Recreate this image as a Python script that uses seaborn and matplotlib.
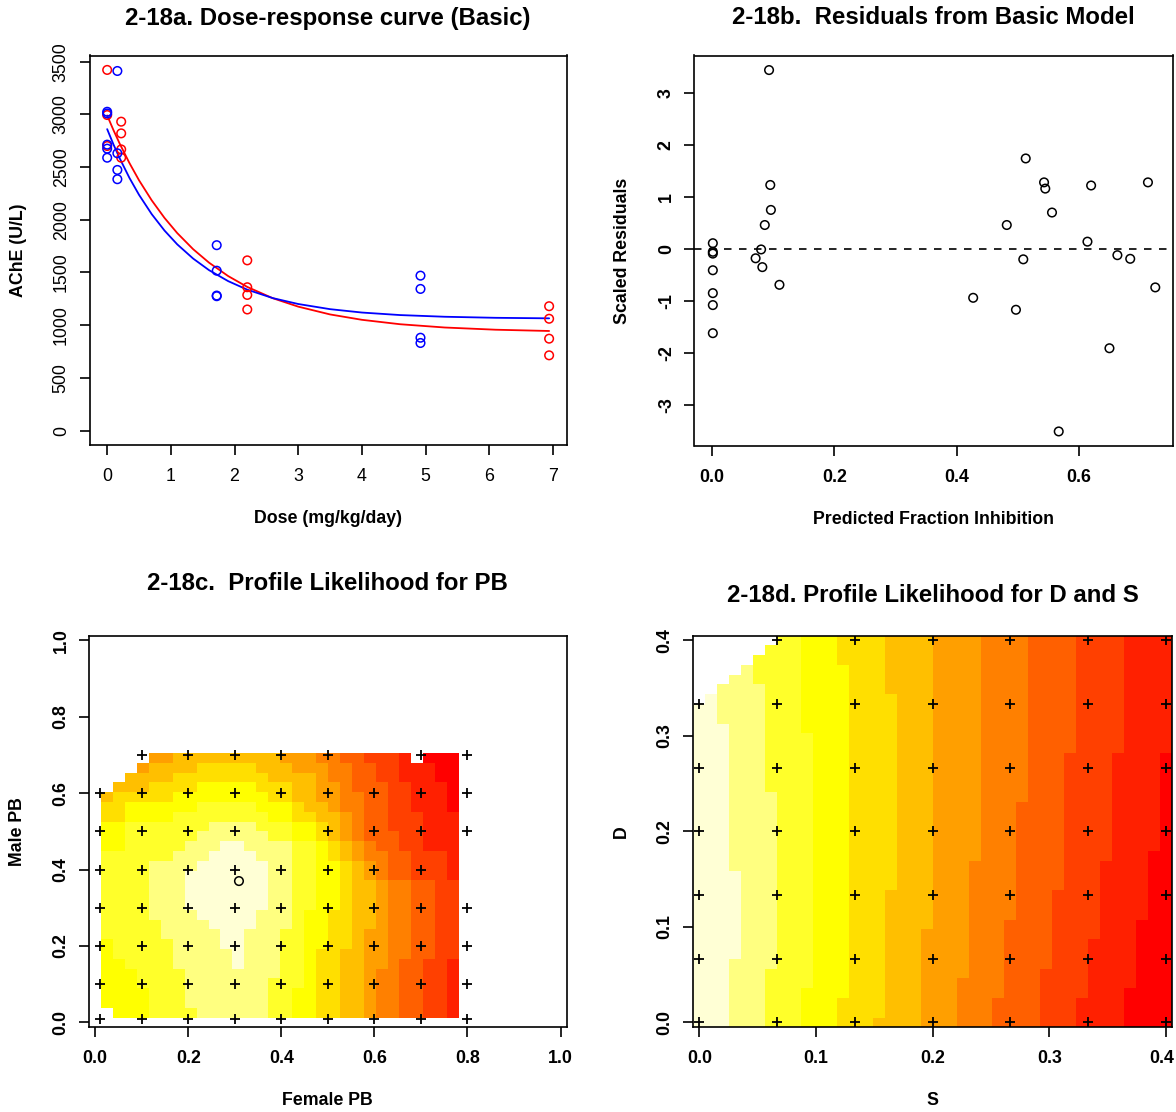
import numpy as np
import pandas as pd
import matplotlib
matplotlib.use("Agg")
import matplotlib.pyplot as plt
import matplotlib.transforms as mtransforms
from matplotlib.colors import ListedColormap, BoundaryNorm
import seaborn as sns

# ── 2-18a: AChE by dose, two groups, with fitted curves ─────────────
RED_DOSE = [0, 0, 0, 0.22, 0.22, 0.22, 0.22, 2.2, 2.2, 2.2, 2.2, 6.94, 6.94, 6.94, 6.94]
RED_ACHE = [3422, 2994, 2700, 2931, 2820, 2668, 2589, 1615, 1360, 1287, 1149, 1180, 1061, 872, 714]
BLUE_DOSE = [0, 0, 0, 0, 0, 0.16, 0.16, 0.16, 0.16, 1.72, 1.72, 1.72, 1.72, 4.92, 4.92, 4.92, 4.92]
BLUE_ACHE = [3025, 3009, 2713, 2675, 2589, 3412, 2631, 2473, 2385, 1759, 1517, 1281, 1275, 1470, 1344, 881, 831]

FIT_DOSE = [0, 0.1, 0.2, 0.35, 0.5, 0.7, 0.9, 1.1, 1.35, 1.6, 1.9, 2.2, 2.6, 3.0, 3.5, 4.0, 4.6, 5.3, 6.1, 6.94]
RED_FIT = [2990, 2849, 2718, 2538, 2375, 2184, 2018, 1874, 1721, 1593, 1466, 1363, 1256, 1176, 1102,
           1051, 1009, 978, 957, 945]
BLUE_FIT = [2860, 2713, 2579, 2397, 2237, 2053, 1898, 1767, 1632, 1522, 1418, 1337, 1257, 1201, 1152,
            1120, 1096, 1080, 1070, 1065]

# ── 2-18b: scaled residuals vs predicted fraction inhibition ────────
PRED_FRAC = [0.001, 0.001, 0.001, 0.001, 0.001, 0.001, 0.001,
             0.071, 0.080, 0.082, 0.086, 0.093, 0.095, 0.096, 0.110,
             0.427, 0.482, 0.497, 0.509, 0.513, 0.543, 0.545, 0.556, 0.567,
             0.614, 0.620, 0.650, 0.663, 0.684, 0.713, 0.725]
RESID = [0.12, -0.045, -0.08, -0.40, -0.84, -1.07, -1.61,
         -0.17, 0.0, -0.34, 0.47, 3.45, 1.24, 0.76, -0.68,
         -0.93, 0.47, -1.16, -0.19, 1.75, 1.29, 1.17, 0.71, -3.50,
         0.15, 1.23, -1.90, -0.11, -0.18, 1.29, -0.73]

# ── 2-18c: profile likelihood levels for PB (0 = best, 11 = worst) ──
# grid is 40 x 40 on [0, 1]; rows 1..27 (Male PB), cols 1..30 (Female PB)
# each row: runs of (level, count); -1 = no value
PB_RUNS = [
    [(-1, 1), (3, 3), (2, 4), (1, 6), (2, 2), (3, 2), (4, 2), (5, 2), (6, 1), (7, 2), (8, 2), (9, 2), (10, 1)],
    [(3, 4), (2, 3), (1, 7), (2, 2), (3, 2), (4, 2), (5, 2), (6, 1), (7, 2), (8, 2), (9, 2), (10, 1)],
    [(3, 4), (2, 3), (1, 7), (2, 2), (3, 2), (4, 2), (5, 2), (6, 1), (7, 2), (8, 2), (9, 2), (10, 1)],
    [(3, 3), (2, 4), (1, 7), (2, 3), (3, 1), (4, 2), (5, 2), (6, 1), (7, 2), (8, 2), (9, 2), (10, 1)],
    [(3, 3), (2, 4), (1, 8), (2, 2), (3, 1), (4, 2), (5, 2), (6, 1), (7, 2), (8, 2), (9, 2), (10, 1)],
    [(3, 2), (2, 4), (1, 5), (0, 1), (1, 3), (2, 2), (3, 1), (4, 2), (5, 2), (6, 2), (7, 1), (8, 2), (9, 2), (10, 1)],
    [(3, 1), (2, 5), (1, 5), (0, 1), (1, 3), (2, 2), (3, 1), (4, 2), (5, 2), (6, 2), (7, 2), (8, 2), (9, 2)],
    [(3, 1), (2, 5), (1, 4), (0, 2), (1, 3), (2, 2), (3, 2), (4, 2), (5, 1), (6, 2), (7, 2), (8, 2), (9, 2)],
    [(2, 5), (1, 5), (0, 2), (1, 3), (2, 2), (3, 2), (4, 2), (5, 1), (6, 2), (7, 2), (8, 2), (9, 2)],
    [(2, 5), (1, 4), (0, 4), (1, 3), (2, 1), (3, 2), (4, 2), (5, 2), (6, 1), (7, 2), (8, 2), (9, 2)],
    [(2, 4), (1, 4), (0, 5), (1, 3), (2, 1), (3, 2), (4, 2), (5, 2), (6, 1), (7, 2), (8, 2), (9, 2)],
    [(2, 4), (1, 3), (0, 7), (1, 2), (2, 2), (3, 2), (4, 1), (5, 2), (6, 1), (7, 2), (8, 2), (9, 2)],
    [(2, 4), (1, 3), (0, 7), (1, 2), (2, 2), (3, 2), (4, 1), (5, 2), (6, 1), (7, 2), (8, 2), (9, 2)],
    [(2, 4), (1, 3), (0, 7), (1, 2), (2, 2), (3, 2), (4, 1), (5, 2), (6, 1), (7, 2), (8, 2), (9, 2)],
    [(2, 4), (1, 3), (0, 7), (1, 2), (2, 2), (3, 2), (4, 1), (5, 1), (6, 1), (7, 1), (8, 2), (9, 3), (10, 1)],
    [(2, 4), (1, 4), (0, 6), (1, 2), (2, 2), (3, 2), (4, 1), (5, 1), (6, 1), (7, 1), (8, 2), (9, 3), (10, 1)],
    [(2, 6), (1, 3), (0, 4), (1, 3), (2, 2), (3, 1), (4, 1), (5, 1), (6, 1), (7, 2), (8, 2), (9, 3), (10, 1)],
    [(3, 2), (2, 5), (1, 3), (0, 2), (1, 4), (2, 2), (3, 1), (4, 1), (5, 1), (6, 1), (7, 1), (8, 2), (9, 2), (10, 3)],
    [(3, 2), (2, 6), (1, 6), (2, 2), (3, 2), (4, 1), (5, 1), (6, 1), (7, 1), (8, 3), (9, 2), (10, 3)],
    [(3, 2), (2, 7), (1, 4), (2, 3), (3, 2), (4, 1), (5, 1), (6, 1), (7, 1), (8, 2), (9, 3), (10, 3)],
    [(4, 2), (3, 4), (2, 8), (3, 2), (4, 2), (5, 2), (6, 1), (7, 1), (8, 2), (9, 3), (10, 3)],
    [(4, 2), (3, 6), (2, 5), (3, 3), (4, 1), (5, 2), (6, 1), (7, 2), (8, 2), (9, 2), (10, 3), (11, 1)],
    [(5, 1), (4, 5), (3, 8), (4, 2), (5, 2), (6, 2), (7, 2), (8, 2), (9, 2), (10, 3), (11, 1)],
    [(-1, 1), (5, 3), (4, 4), (3, 5), (4, 3), (5, 2), (6, 2), (7, 1), (8, 3), (9, 2), (10, 3), (11, 1)],
    [(-1, 2), (5, 4), (4, 8), (5, 4), (6, 1), (7, 2), (8, 2), (9, 2), (10, 3), (11, 2)],
    [(-1, 3), (6, 1), (5, 4), (4, 5), (5, 3), (6, 3), (7, 2), (8, 2), (9, 2), (10, 3), (11, 2)],
    [(-1, 4), (6, 2), (5, 9), (6, 3), (7, 2), (8, 2), (9, 3), (10, 1), (-1, 1), (11, 3)],
]
PB_FEMALE_PTS = [0.01, 0.1, 0.2, 0.3, 0.4, 0.5, 0.6, 0.7, 0.8]
PB_MALE_PTS = [0.01, 0.1, 0.2, 0.3, 0.4, 0.5, 0.6, 0.7]
PB_MISSING = [(0.01, 0.7), (0.6, 0.7), (0.4, 0.5), (0.8, 0.4)]
PB_MLE = (0.309, 0.370)

# ── 2-18d: profile likelihood levels for D and S ───────────────────
# 40 x 40 grid on [0, 0.4]; for each level step: (first D row, first S column)
DS_STEPS = [
    [(0, 3), (7, 4), (16, 3), (31, 2)],
    [(0, 6), (6, 7), (24, 6), (35, 5)],
    [(0, 9), (4, 10), (30, 9)],
    [(0, 12), (3, 13), (37, 12)],
    [(0, 15), (1, 16), (14, 17), (34, 16)],
    [(0, 19), (10, 20)],
    [(0, 22), (5, 23), (17, 24)],
    [(0, 25), (3, 26), (11, 27), (23, 28)],
    [(0, 29), (6, 30), (14, 31), (28, 32)],
    [(0, 32), (3, 33), (9, 34), (17, 35), (28, 36)],
    [(0, 36), (4, 37), (11, 38), (18, 39), (28, 40)],
]
DS_TOP_ROW = [32, 33, 34, 35, 36, 37, 38]   # last row with a value, columns 0..6
DS_PTS = [0, 0.0667, 0.1333, 0.2, 0.2667, 0.3333, 0.4]
DS_MISSING = [(0, 0.4)]

HEAT = ["#FF0000", "#FF2000", "#FF4000", "#FF6000", "#FF8000", "#FF9F00",
        "#FFBF00", "#FFDF00", "#FFFF00", "#FFFF2A", "#FFFF80", "#FFFFD5"]

# ── build level grids ──────────────────────────────────────────────
pb = np.full((40, 40), np.nan)
for r, runs in enumerate(PB_RUNS):
    c = 1
    for lev, n in runs:
        if lev >= 0:
            pb[r + 1, c:c + n] = lev
        c += n

ds = np.zeros((40, 40))
for steps in DS_STEPS:
    for i, (row0, col) in enumerate(steps):
        row1 = steps[i + 1][0] if i + 1 < len(steps) else 40
        ds[row0:row1, col:] += 1
for col, top in enumerate(DS_TOP_ROW):
    ds[top + 1:, col] = np.nan

cmap = ListedColormap(HEAT[::-1])
norm = BoundaryNorm(np.arange(-0.5, 12.5, 1), cmap.N)

# ── figure ─────────────────────────────────────────────────────────
sns.set_theme(style="ticks")
plt.rcParams["font.family"] = ["Liberation Sans", "DejaVu Sans"]
plt.rcParams["axes.linewidth"] = 1.2
plt.rcParams["axes.unicode_minus"] = False
for key in ["text.color", "axes.labelcolor", "xtick.color", "ytick.color", "axes.edgecolor"]:
    plt.rcParams[key] = "black"

W, H = 1176, 1112
fig = plt.figure(figsize=(W / 100, H / 100), dpi=100)


def add_ax(left, top, right, bottom):
    return fig.add_axes([left / W, 1 - bottom / H, (right - left) / W, (bottom - top) / H])


ax_a = add_ax(89.5, 55.5, 566.8, 445.0)
ax_b = add_ax(694.5, 55.5, 1173.0, 446.0)
ax_c = add_ax(89.2, 635.5, 566.5, 1027.3)
ax_d = add_ax(693.3, 635.5, 1172.0, 1027.3)
BOXES = {ax_a: (477.3, 389.5), ax_b: (478.5, 390.5), ax_c: (477.3, 391.8), ax_d: (478.7, 391.8)}


def finish(ax, title, title_gap, xlabel, ylabel, bold_ticks):
    w, h = BOXES[ax]
    ax.tick_params(axis="both", direction="out", length=7.2, width=1.2,
                   labelsize=12.8, colors="black")
    ax.tick_params(axis="x", pad=9.5)
    ax.tick_params(axis="y", pad=7)
    for lab in ax.get_yticklabels():
        lab.set_rotation(90)
        lab.set_va("center")
    for lab in ax.get_xticklabels() + ax.get_yticklabels():
        lab.set_fontweight("bold" if bold_ticks else "normal")
        lab.set_color("black")
    for s in ax.spines.values():
        s.set_visible(True)
        s.set_color("black")
        s.set_linewidth(1.2)
    ax.set_xlabel(xlabel, fontsize=12.8, fontweight="bold", va="center", color="black")
    ax.set_ylabel(ylabel, fontsize=12.8, fontweight="bold", va="center", color="black")
    ax.xaxis.set_label_coords(0.5, -73.5 / h)
    ax.yaxis.set_label_coords(-71.5 / w, 0.5)
    ax.text(0.5, 1 + title_gap / h, title, transform=ax.transAxes, color="black",
            ha="center", va="center", fontsize=17.3, fontweight="bold")


# a) dose-response
sns.lineplot(x=FIT_DOSE, y=RED_FIT, color="#FF0000", lw=1.3, ax=ax_a, estimator=None, sort=False)
sns.lineplot(x=FIT_DOSE, y=BLUE_FIT, color="#0000FF", lw=1.3, ax=ax_a, estimator=None, sort=False)
sns.scatterplot(x=RED_DOSE, y=RED_ACHE, color="#FF0000", facecolor="none", edgecolor="#FF0000",
                s=38, linewidth=1.1, ax=ax_a, zorder=3)
sns.scatterplot(x=BLUE_DOSE, y=BLUE_ACHE, color="#0000FF", facecolor="none", edgecolor="#0000FF",
                s=38, linewidth=1.1, ax=ax_a, zorder=3)
ymax = max(RED_ACHE + BLUE_ACHE)
ax_a.set_xlim(-0.04 * 6.94, 6.94 * 1.04)
ax_a.set_ylim(-0.04 * ymax, ymax * 1.04)
ax_a.set_xticks(range(0, 8))
ax_a.set_yticks(range(0, 3501, 500))
finish(ax_a, "2-18a. Dose-response curve (Basic)", 37.5, "Dose (mg/kg/day)", "AChE (U/L)", False)

# b) residuals
ax_b.axhline(0, color="black", lw=1.2, ls=(0, (4.5, 4.5)), zorder=1)
sns.scatterplot(x=PRED_FRAC, y=RESID, color="black", facecolor="none", edgecolor="black",
                s=38, linewidth=1.1, ax=ax_b, zorder=3)
ax_b.set_xlim(-0.029, 0.754)
ax_b.set_ylim(-3.78, 3.73)
ax_b.set_xticks([0.0, 0.2, 0.4, 0.6])
ax_b.set_xticklabels(["0.0", "0.2", "0.4", "0.6"])
ax_b.set_yticks(range(-3, 4))
ax_b.set_yticklabels([str(v) for v in range(-3, 4)])
finish(ax_b, "2-18b.  Residuals from Basic Model", 37.5, "Predicted Fraction Inhibition",
       "Scaled Residuals", True)

# c) profile likelihood for PB
pb_edges = np.linspace(-0.5 / 39, 1 + 0.5 / 39, 41)
ax_c.pcolormesh(pb_edges, pb_edges, np.ma.masked_invalid(pb), cmap=cmap, norm=norm, zorder=1)
pts = [(x, y) for y in PB_MALE_PTS for x in PB_FEMALE_PTS if (x, y) not in PB_MISSING]
pb_pts = pd.DataFrame(pts, columns=["female", "male"])
sns.scatterplot(data=pb_pts, x="female", y="male", marker="+", color="black", s=42,
                linewidth=1.3, ax=ax_c, zorder=4)
sns.scatterplot(x=[PB_MLE[0]], y=[PB_MLE[1]], color="black", facecolor="none", edgecolor="black",
                s=38, linewidth=1.1, ax=ax_c, zorder=4)
ax_c.set_xlim(pb_edges[0], pb_edges[-1])
ax_c.set_ylim(pb_edges[0], pb_edges[-1])
ticks = [0.0, 0.2, 0.4, 0.6, 0.8, 1.0]
ax_c.set_xticks(ticks)
ax_c.set_xticklabels([f"{t:.1f}" for t in ticks])
ax_c.set_yticks(ticks)
ax_c.set_yticklabels([f"{t:.1f}" for t in ticks])
finish(ax_c, "2-18c.  Profile Likelihood for PB", 52.5, "Female PB", "Male PB", True)

# d) profile likelihood for D and S
ds_edges = np.linspace(-0.2 / 39, 0.4 + 0.2 / 39, 41)
ax_d.pcolormesh(ds_edges, ds_edges, np.ma.masked_invalid(ds), cmap=cmap, norm=norm, zorder=1)
pts = [(x, y) for y in DS_PTS for x in DS_PTS if (x, y) not in DS_MISSING]
ds_pts = pd.DataFrame(pts, columns=["S", "D"])
sns.scatterplot(data=ds_pts, x="S", y="D", marker="+", color="black", s=42,
                linewidth=1.3, ax=ax_d, zorder=4)
ax_d.set_xlim(ds_edges[0], ds_edges[-1])
ax_d.set_ylim(ds_edges[0], ds_edges[-1])
ticks = [0.0, 0.1, 0.2, 0.3, 0.4]
ax_d.set_xticks(ticks)
ax_d.set_xticklabels([f"{t:.1f}" for t in ticks])
ax_d.set_yticks(ticks)
ax_d.set_yticklabels([f"{t:.1f}" for t in ticks])
finish(ax_d, "2-18d. Profile Likelihood for D and S", 40.5, "S", "D", True)
# keep the last S tick label inside the canvas
last = ax_d.get_xticklabels()[-1]
last.set_transform(last.get_transform() + mtransforms.ScaledTranslation(-4 / 100, 0, fig.dpi_scale_trans))

fig.savefig("out.png", dpi=100)
